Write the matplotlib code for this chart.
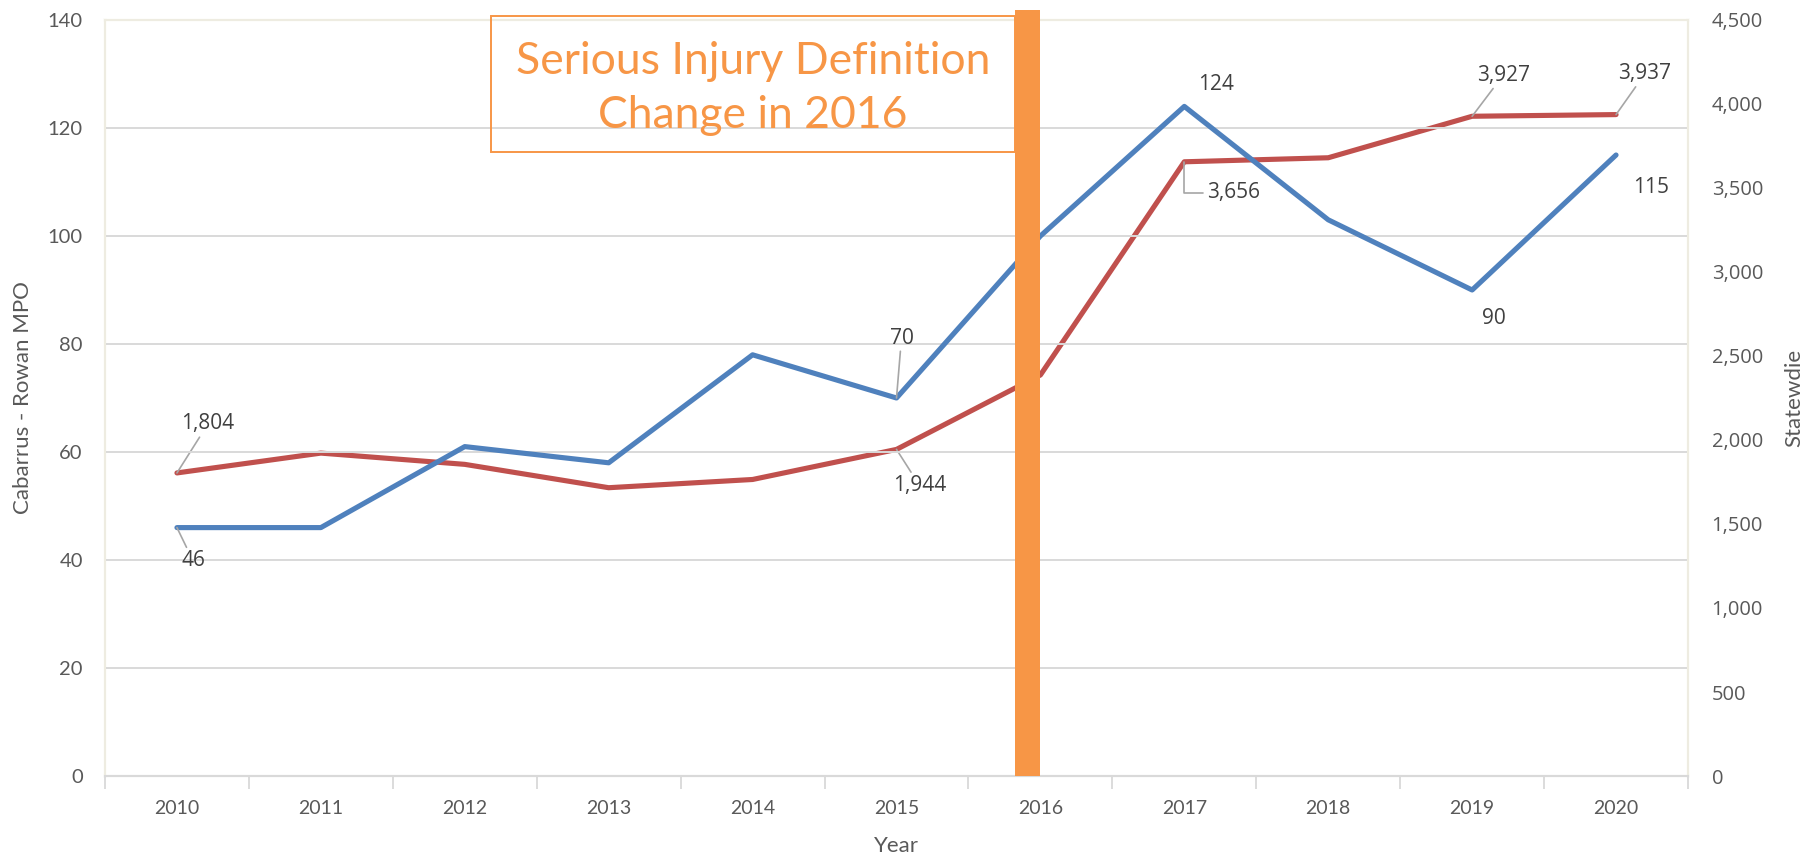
import matplotlib
matplotlib.use("Agg")
import matplotlib.pyplot as plt
from matplotlib.patches import Rectangle
from matplotlib.ticker import FuncFormatter, FixedLocator

# ---------------- data ----------------
years = [2010, 2011, 2012, 2013, 2014, 2015, 2016, 2017, 2018, 2019, 2020]
mpo_values = [46, 46, 61, 58, 78, 70, 100, 124, 103, 90, 115]
statewide_values = [1804, 1922, 1855, 1716, 1765, 1944, 2387, 3656, 3680, 3927, 3937]
mpo_labeled_years = [2010, 2015, 2017, 2019, 2020]
statewide_labeled_years = [2010, 2015, 2017, 2019, 2020]
change_year = 2016
annotation_text = ["Serious Injury Definition", "Change in 2016"]
left_ticks = [0, 20, 40, 60, 80, 100, 120, 140]
right_ticks = [0, 500, 1000, 1500, 2000, 2500, 3000, 3500, 4000, 4500]

# ---------------- style ----------------
BLUE = "#4F81BD"
RED = "#C0504D"
ORANGE = "#F79646"
GRID = "#D9D9D9"
BEIGE = "#EEECE1"
TICKC = "#595959"
LABC = "#404040"
LEADER = "#A6A6A6"

fig = plt.figure(figsize=(18.16, 8.61), dpi=100)
W, H = 1816, 861
ax_l, ax_r, ax_t, ax_b = 105, 1688, 20, 776
ax = fig.add_axes([ax_l / W, 1 - ax_b / H, (ax_r - ax_l) / W, (ax_b - ax_t) / H])
ax2 = ax.twinx()

x = list(range(len(years)))

ax.set_xlim(-0.5, len(years) - 0.5)
ax.set_ylim(0, 140)
ax2.set_ylim(0, 4500)

# grid
ax.yaxis.set_major_locator(FixedLocator(left_ticks))
ax2.yaxis.set_major_locator(FixedLocator(right_ticks))
for t in left_ticks[1:-1]:
    ax.axhline(t, color=GRID, lw=1.4, zorder=0)

# lines
ax.plot(x, mpo_values, color=BLUE, lw=3.7, solid_joinstyle="round",
        solid_capstyle="round", zorder=3)
ax2.plot(x, statewide_values, color=RED, lw=3.7, solid_joinstyle="round",
         solid_capstyle="round", zorder=3)

# orange marker bar at the change year
ci = years.index(change_year)
ax.axvspan(ci - 0.175, ci, ymin=0, ymax=(ax_b - 10) / (ax_b - ax_t),
           color=ORANGE, zorder=5, clip_on=False, lw=0)

# spines
for a in (ax, ax2):
    a.spines["left"].set_color(BEIGE)
    a.spines["right"].set_color(BEIGE)
    a.spines["top"].set_color(BEIGE)
    a.spines["bottom"].set_color(GRID)
    for s in a.spines.values():
        s.set_linewidth(1.5)
ax.set_zorder(ax2.get_zorder() + 1)
ax.patch.set_visible(False)

# x ticks
ax.set_xticks(x)
ax.set_xticklabels([str(y) for y in years])
ax.set_xticks([i - 0.5 for i in range(len(years) + 1)], minor=True)
ax.tick_params(axis="x", which="major", length=0, pad=17, labelsize=14,
               labelcolor=TICKC)
ax.tick_params(axis="x", which="minor", length=9, width=1.3, color=GRID,
               direction="out")
for lab in ax.get_xticklabels():
    lab.set_fontfamily("Lato")

# y ticks
ax.tick_params(axis="y", length=0, pad=16, labelsize=14.5, labelcolor=TICKC)
for lab in ax.get_yticklabels():
    lab.set_fontfamily("Lato")
ax2.yaxis.set_major_formatter(FuncFormatter(lambda v, p: f"{int(v):,}"))
ax2.tick_params(axis="y", length=0, pad=17, labelsize=14.5, labelcolor=TICKC)
for lab in ax2.get_yticklabels():
    lab.set_fontfamily("Open Sans")
ax2.tick_params(axis="x", length=0)

# axis titles
ax.set_ylabel("Cabarrus - Rowan MPO", fontsize=16, color=TICKC, family="Lato")
ax.yaxis.set_label_coords(-0.0455, 0.5)
ax2.set_ylabel("Statewdie", fontsize=16, color=TICKC, family="Lato")
ax2.yaxis.set_label_coords(1.061, 0.5)
ax.set_xlabel("Year", fontsize=16, color=TICKC, family="Lato")
ax.xaxis.set_label_coords(0.5, -0.079)

# data labels (offsets in px: dx right, dy down; leader style)
PT = 0.72
mpo_label_style = {
    2010: ((16, 33), "line"),
    2015: ((5, -60), "line"),
    2017: ((32, -22), None),
    2019: ((22, 28), None),
    2020: ((35, 32), None),
}
state_label_style = {
    2010: ((31, -49), "line"),
    2015: ((23, 36), "line"),
    2017: ((49, 31), "elbow"),
    2019: ((31, -41), "line"),
    2020: ((29, -41), "line"),
}


def add_label(axis, xi, val, text, off, leader):
    dx, dy = off
    kw = dict(xy=(xi, val), xytext=(dx * PT, -dy * PT), textcoords="offset points",
              ha="center", va="center", fontsize=15, color=LABC,
              family="Open Sans", zorder=6)
    if leader == "line":
        kw["arrowprops"] = dict(arrowstyle="-", color=LEADER, lw=1.2,
                                shrinkA=0, shrinkB=0)
    elif leader == "elbow":
        kw["arrowprops"] = dict(arrowstyle="-", color=LEADER, lw=1.2,
                                shrinkA=1, shrinkB=0, relpos=(0, 0.5),
                                connectionstyle="angle,angleA=0,angleB=90,rad=0")
    axis.annotate(text, **kw)


for yr in mpo_labeled_years:
    i = years.index(yr)
    off, leader = mpo_label_style[yr]
    add_label(ax, i, mpo_values[i], f"{mpo_values[i]:,}", off, leader)
for yr in statewide_labeled_years:
    i = years.index(yr)
    off, leader = state_label_style[yr]
    add_label(ax2, i, statewide_values[i], f"{statewide_values[i]:,}", off, leader)

# annotation box
bx0, bx1, by0, by1 = 491, 1015, 16, 152
fig.patches.append(Rectangle((bx0 / W, 1 - by1 / H), (bx1 - bx0) / W,
                             (by1 - by0) / H, transform=fig.transFigure,
                             fill=False, edgecolor=ORANGE, lw=1.4, zorder=4))
fig.text(753 / W, 1 - 61 / H, annotation_text[0], ha="center", va="center",
         fontsize=32, color=ORANGE, family="Lato")
fig.text(753 / W, 1 - 115 / H, annotation_text[1], ha="center", va="center",
         fontsize=32, color=ORANGE, family="Lato")

fig.savefig("out.png", dpi=100)
